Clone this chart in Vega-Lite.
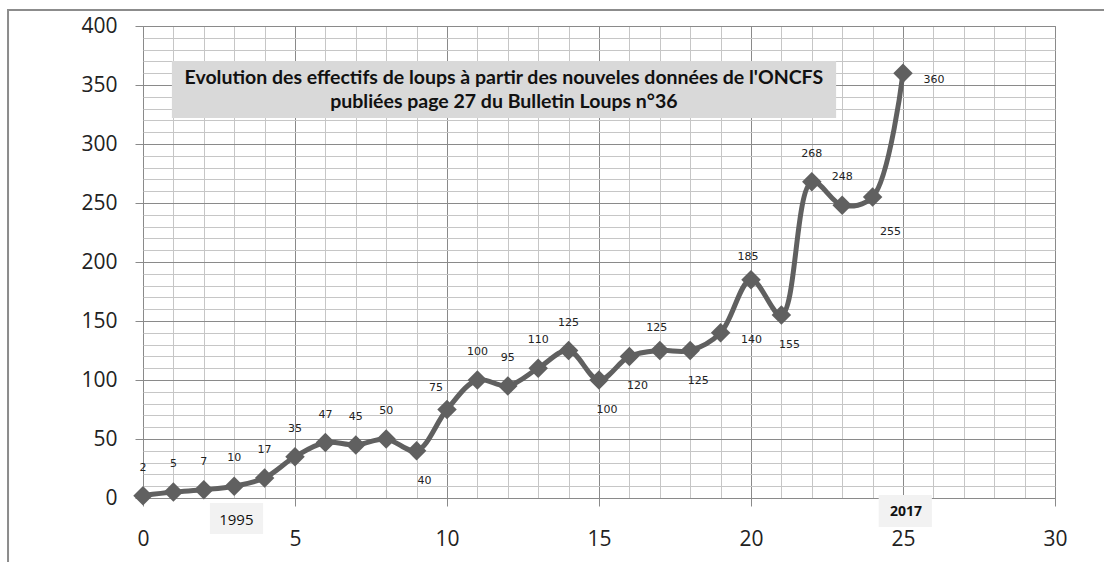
{
  "$schema": "https://vega.github.io/schema/vega-lite/v6.json",
  "width": 912,
  "height": 472,
  "autosize": {"type": "none"},
  "padding": {"left": 143, "top": 26, "right": 49, "bottom": 64},
  "background": "white",
  "config": {
    "view": {"stroke": "#8a8a8a", "strokeWidth": 1},
    "axis": {"title": null}
  },
  "datasets": {
    "wolves": [
      {"x": 0, "y": 2}, {"x": 1, "y": 5}, {"x": 2, "y": 7}, {"x": 3, "y": 10},
      {"x": 4, "y": 17}, {"x": 5, "y": 35}, {"x": 6, "y": 47}, {"x": 7, "y": 45},
      {"x": 8, "y": 50}, {"x": 9, "y": 40}, {"x": 10, "y": 75}, {"x": 11, "y": 100},
      {"x": 12, "y": 95}, {"x": 13, "y": 110}, {"x": 14, "y": 125}, {"x": 15, "y": 100},
      {"x": 16, "y": 120}, {"x": 17, "y": 125}, {"x": 18, "y": 125}, {"x": 19, "y": 140},
      {"x": 20, "y": 185}, {"x": 21, "y": 155}, {"x": 22, "y": 268}, {"x": 23, "y": 248},
      {"x": 24, "y": 255}, {"x": 25, "y": 360}
    ]
  },
  "encoding": {
    "x": {
      "field": "x", "type": "quantitative",
      "scale": {"domain": [0, 30], "nice": false, "zero": false},
      "axis": {
        "values": [0,1,2,3,4,5,6,7,8,9,10,11,12,13,14,15,16,17,18,19,20,21,22,23,24,25,26,27,28,29,30],
        "labelExpr": "datum.value % 5 === 0 ? datum.label : ''",
        "labelOverlap": false, "labelFlush": false,
        "labelFont": "Open Sans", "labelFontSize": 21, "labelColor": "#222222",
        "labelPadding": 22,
        "tickSize": 8,
        "tickColor": {"condition": {"test": "datum.value % 5 === 0", "value": "#8a8a8a"}, "value": "transparent"},
        "domain": false,
        "grid": true,
        "gridColor": {"condition": {"test": "datum.value % 5 === 0", "value": "#8a8a8a"}, "value": "#c6c6c6"},
        "gridWidth": 1
      }
    },
    "y": {
      "field": "y", "type": "quantitative",
      "scale": {"domain": [0, 400], "nice": false, "zero": true},
      "axis": {
        "values": [0,10,20,30,40,50,60,70,80,90,100,110,120,130,140,150,160,170,180,190,200,210,220,230,240,250,260,270,280,290,300,310,320,330,340,350,360,370,380,390,400],
        "labelExpr": "datum.value % 50 === 0 ? datum.label : ''",
        "labelOverlap": false, "labelFlush": false,
        "labelFont": "Open Sans", "labelFontSize": 21, "labelColor": "#222222",
        "labelPadding": 18,
        "tickSize": 8,
        "tickColor": {"condition": {"test": "datum.value % 50 === 0", "value": "#8a8a8a"}, "value": "transparent"},
        "domain": false,
        "grid": true,
        "gridColor": {"condition": {"test": "datum.value % 50 === 0", "value": "#8a8a8a"}, "value": "#c6c6c6"},
        "gridWidth": 1
      }
    }
  },
  "layer": [
    {
      "data": {"values": [{"x": 0.95, "x2": 22.8, "y": 370.3, "y2": 322}]},
      "mark": {"type": "rect", "fill": "#d9d9d9", "clip": false},
      "encoding": {
        "x2": {"field": "x2"},
        "y2": {"field": "y2"}
      }
    },
    {
      "data": {"values": [{"x": 11.87, "y": 356}]},
      "mark": {"type": "text", "font": "Lato", "fontSize": 19.5, "fontWeight": "bold", "color": "#111111", "align": "center", "baseline": "middle", "lineHeight": 24,
        "text": ["Evolution des effectifs de loups à partir des nouveles données de l'ONCFS", "publiées page 27 du Bulletin Loups n°36"]}
    },
    {
      "data": {"name": "wolves"},
      "layer": [
        {
          "mark": {"type": "line", "color": "#606060", "strokeWidth": 5, "interpolate": "catmull-rom"}
        },
        {
          "mark": {"type": "point", "shape": "diamond", "filled": true, "size": 380, "color": "#606060", "opacity": 1}
        },
        {
          "transform": [{"filter": "indexof([9,10,15,16,17,18,19,20,21,24,25], datum.x) < 0"}],
          "mark": {"type": "text", "font": "DejaVu Sans", "fontSize": 11, "color": "#222222", "dy": -28},
          "encoding": {"text": {"field": "y", "type": "quantitative"}}
        },
        {
          "transform": [{"filter": "datum.x == 17 || datum.x == 20"}],
          "mark": {"type": "text", "font": "DejaVu Sans", "fontSize": 11, "color": "#222222", "dy": -23, "dx": -3},
          "encoding": {"text": {"field": "y", "type": "quantitative"}}
        },
        {
          "transform": [{"filter": "datum.x == 10"}],
          "mark": {"type": "text", "font": "DejaVu Sans", "fontSize": 11, "color": "#222222", "dy": -22, "dx": -11},
          "encoding": {"text": {"field": "y", "type": "quantitative"}}
        },
        {
          "transform": [{"filter": "indexof([9,15,16,18,21], datum.x) >= 0"}],
          "mark": {"type": "text", "font": "DejaVu Sans", "fontSize": 11, "color": "#222222", "dy": 30, "dx": 8},
          "encoding": {"text": {"field": "y", "type": "quantitative"}}
        },
        {
          "transform": [{"filter": "datum.x == 24"}],
          "mark": {"type": "text", "font": "DejaVu Sans", "fontSize": 11, "color": "#222222", "dy": 35, "dx": 18},
          "encoding": {"text": {"field": "y", "type": "quantitative"}}
        },
        {
          "transform": [{"filter": "datum.x == 19 || datum.x == 25"}],
          "mark": {"type": "text", "font": "DejaVu Sans", "fontSize": 11, "color": "#222222", "dy": 7, "dx": 31},
          "encoding": {"text": {"field": "y", "type": "quantitative"}}
        }
      ]
    },
    {
      "data": {"values": [{"x": 2.2, "x2": 3.95, "y": -4.2, "y2": -30.5}, {"x": 24.2, "x2": 25.95, "y": 2.5, "y2": -24.6}]},
      "mark": {"type": "rect", "fill": "#f2f2f2", "clip": false},
      "encoding": {
        "x2": {"field": "x2"},
        "y2": {"field": "y2"}
      }
    },
    {
      "data": {"values": [{"x": 3.07, "y": -18.6}]},
      "mark": {"type": "text", "text": "1995", "font": "Open Sans", "fontSize": 15, "fontWeight": "normal", "color": "#111111", "align": "center", "baseline": "middle", "clip": false}
    },
    {
      "data": {"values": [{"x": 25.1, "y": -11.5}]},
      "mark": {"type": "text", "text": "2017", "font": "Open Sans", "fontSize": 14, "fontWeight": "bold", "color": "#111111", "align": "center", "baseline": "middle", "clip": false}
    },
    {
      "data": {"values": [{"x": -4.44, "x2": 40, "y": 413.6, "y2": -100}]},
      "mark": {"type": "rect", "fillOpacity": 0, "stroke": "#8c8c8c", "strokeWidth": 2, "clip": false},
      "encoding": {
        "x2": {"field": "x2"},
        "y2": {"field": "y2"}
      }
    }
  ]
}
